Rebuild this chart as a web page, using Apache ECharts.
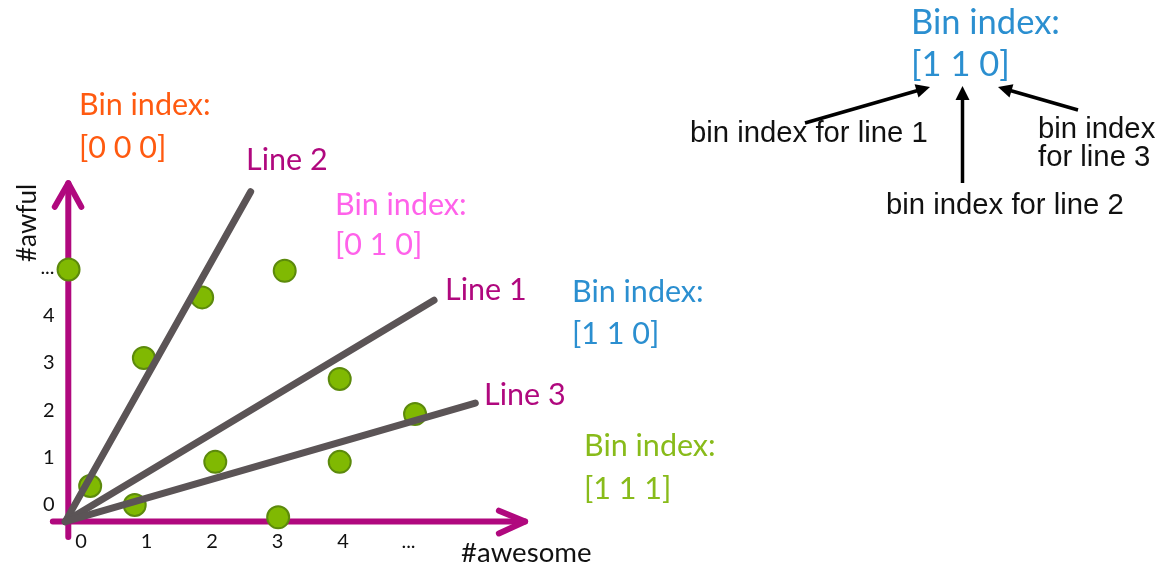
<!DOCTYPE html>
<html><head><meta charset="utf-8">
<script src="https://cdn.jsdelivr.net/npm/echarts@6/dist/echarts.min.js"></script>
<style>html,body{margin:0;padding:0;background:#fff}#c{width:1170px;height:565px}</style>
</head><body><div id="c"></div>
<script>
// ---- data ----
const tickValues = [0, 1, 2, 3, 4, 5];
const xTickLabels = ['0', '1', '2', '3', '4', '...'];
const yTickLabels = ['0', '1', '2', '3', '4', '...'];
const awesome = [-0.19, 0.14, 0.82, 0.96, 1.85, 2.05, 3.11, 3.01, 3.95, 3.95, 5.10];
const awful   = [ 4.97, 0.40, 0.00, 3.10, 4.38, 0.91, 4.94, -0.26, 2.66, 0.91, 1.92];
const lineOrigin = [-0.24, -0.35];
const line1End = [5.39, 4.32];
const line2End = [2.59, 6.61];
const line3End = [6.02, 2.15];
const lineNames = ['Line 1', 'Line 2', 'Line 3'];
// axis arrows (data space)
const xAxisArrow = { from: [-0.43, -0.35], tip: [6.78, -0.35], head: [[6.38, -0.12], [6.38, -0.6]] };
const yAxisArrow = { from: [-0.194, -0.675], tip: [-0.194, 6.79], head: [[-0.40, 6.29], [0.005, 6.29]] };

const chart = echarts.init(document.getElementById('c'));
const magenta = '#b0087e';
const gray = '#5b5456';
function seg(data, color, w) {
  return { type: 'line', data: data, symbol: 'none', clip: false, silent: true, z: 2,
    lineStyle: { color: color, width: w, cap: 'round', join: 'round' } };
}
function arrowHead(x1, y1, x2, y2, len, hw) {
  const dx = x2 - x1, dy = y2 - y1, L = Math.hypot(dx, dy);
  const ux = dx / L, uy = dy / L, px = -uy, py = ux;
  const bx = x2 - ux * len, by = y2 - uy * len;
  return [[x2, y2], [bx + px * hw, by + py * hw], [bx - px * hw, by - py * hw]];
}
const annArrows = [
  [805, 123, 930, 87],
  [962.5, 183, 962.5, 86],
  [1078, 110, 998, 87]
];
const graphics = [];
annArrows.forEach(a => {
  const h = arrowHead(a[0], a[1], a[2], a[3], 14, 7);
  const dx = a[2]-a[0], dy = a[3]-a[1], L = Math.hypot(dx, dy);
  graphics.push({ type: 'line', shape: { x1: a[0], y1: a[1], x2: a[2] - dx / L * 10, y2: a[3] - dy / L * 10 },
    style: { stroke: '#000', lineWidth: 3.5 } });
  graphics.push({ type: 'polygon', shape: { points: h }, style: { fill: '#000' } });
});
function txt(t, x, y, color, size, family, extra) {
  const o = { type: 'text', x: x, y: y, style: { text: t, fill: color, font: size + 'px ' + family,
    textVerticalAlign: 'middle', verticalAlign: 'middle', textAlign: 'left', align: 'left' } };
  return Object.assign(o, extra || {});
}
const cal = 'Lato';
const cs = 30.5;
graphics.push(
  txt('Bin index:', 79, 105, '#ff5a10', cs, cal),
  txt('[0 0 0]', 79, 148, '#ff5a10', cs, cal),
  txt('Bin index:', 335, 205, '#ff62ea', cs, cal),
  txt('[0 1 0]', 335, 245, '#ff62ea', cs, cal),
  txt('Bin index:', 572, 292, '#2b8fd0', cs, cal),
  txt('[1 1 0]', 572, 334, '#2b8fd0', cs, cal),
  txt('Bin index:', 584, 446, '#88bb1a', cs, cal),
  txt('[1 1 1]', 584, 489, '#88bb1a', cs, cal),
  txt('Bin index:', 911, 23, '#2b8fd0', 34.5, cal),
  txt('[1 1 0]', 911, 65, '#2b8fd0', 34.5, cal),
  txt(lineNames[1], 246, 160, magenta, cs, cal),
  txt(lineNames[0], 445, 290, magenta, cs, cal),
  txt(lineNames[2], 484, 395, magenta, cs, cal),
  txt('#awesome', 461, 553, '#111', 27.6, cal),
  { type: 'text', x: 28, y: 223, rotation: Math.PI / 2,
    style: { text: '#awful', fill: '#111', font: '26px ' + cal, textAlign: 'center', align: 'center',
      textVerticalAlign: 'middle', verticalAlign: 'middle' } },
  txt('bin index for line 1', 690, 134, '#111', 29.3, 'Liberation Sans'),
  txt('bin index for line 2', 886, 206, '#111', 29.3, 'Liberation Sans'),
  txt('bin index', 1038, 130, '#111', 29.3, 'Liberation Sans'),
  txt('for line 3', 1038, 158, '#111', 29.3, 'Liberation Sans')
);

const option = {
  animation: false,
  backgroundColor: '#fff',
  grid: { left: 48.25, right: 630.5, top: 173.2, bottom: 22.08 },
  xAxis: { type: 'value', min: -0.5, max: 7, offset: -21.3,
    axisLine: { show: false }, axisTick: { show: false }, splitLine: { show: false },
    axisLabel: { customValues: tickValues, margin: 10, color: '#111', fontFamily: cal, fontSize: 20,
      formatter: v => xTickLabels[tickValues.indexOf(Math.round(v))] } },
  yAxis: { type: 'value', min: -0.8, max: 7, offset: -20.3,
    axisLine: { show: false }, axisTick: { show: false }, splitLine: { show: false },
    axisLabel: { customValues: tickValues, margin: 14, color: '#111', fontFamily: cal, fontSize: 20,
      formatter: v => yTickLabels[tickValues.indexOf(Math.round(v))] } },
  graphic: graphics,
  series: [
    seg([xAxisArrow.from, xAxisArrow.tip], magenta, 6),
    seg([xAxisArrow.head[0], xAxisArrow.tip, xAxisArrow.head[1]], magenta, 6),
    seg([yAxisArrow.from, yAxisArrow.tip], magenta, 6),
    seg([yAxisArrow.head[0], yAxisArrow.tip, yAxisArrow.head[1]], magenta, 6),
    { type: 'scatter', data: awesome.map((x, i) => [x, awful[i]]), symbolSize: 22, z: 3, clip: false,
      itemStyle: { color: '#80b902', borderColor: '#5c8a0c', borderWidth: 2, opacity: 1 } },
    Object.assign(seg([lineOrigin, line2End], gray, 7), { z: 4 }),
    Object.assign(seg([lineOrigin, line1End], gray, 7), { z: 4 }),
    Object.assign(seg([lineOrigin, line3End], gray, 7), { z: 4 })
  ]
};
chart.setOption(option);
</script></body></html>
